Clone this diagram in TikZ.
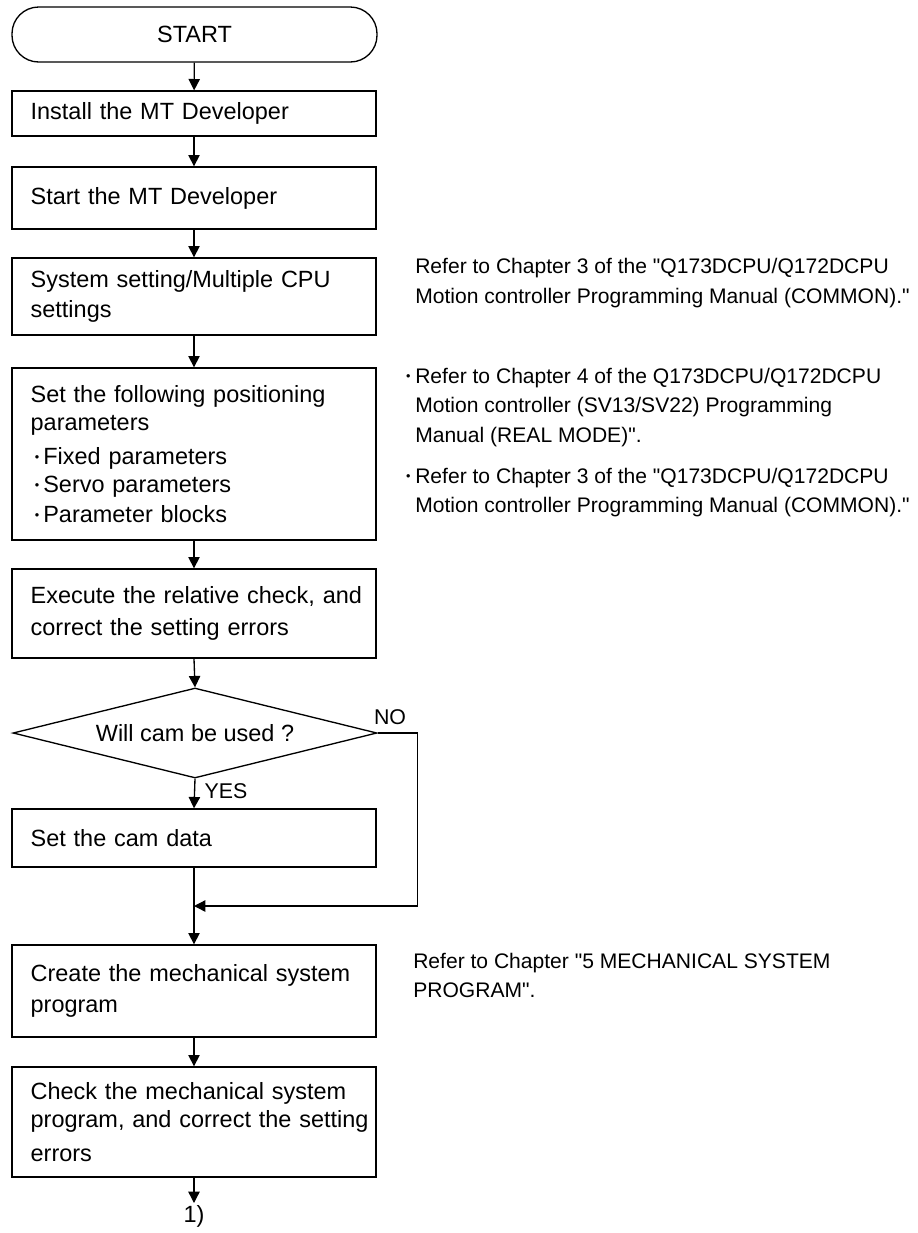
\documentclass[tikz,border=0pt]{standalone}
\usepackage{fontspec}
\setmainfont{Liberation Sans}[Ligatures=TeXOff]
\usetikzlibrary{arrows.meta,shapes.geometric}
% bullet dot for the lists
\newcommand{\dotmark}{\raisebox{2.2pt}{\fontsize{9.5}{9.5}\selectfont •}}
\newcommand{\bitem}{\makebox[9.5pt][c]{\dotmark}}
\begin{document}
\begin{tikzpicture}[x=0.75pt,y=-0.75pt,
  flow/.style={line width=1pt,-{Triangle[length=8.5pt,width=8.5pt]}},
  boxfont/.style={font=\fontsize{17.6}{22.5}\selectfont},
  notefont/.style={font=\fontsize{15.8}{22}\selectfont},
  proc/.style={draw,line width=1pt,rectangle,minimum width=273pt,
    text width=245pt,inner xsep=14pt,inner ysep=0pt,align=left,boxfont},
  term/.style={draw,line width=1pt,rectangle,rounded corners=20pt,
    minimum width=273.75pt,minimum height=41.25pt,boxfont},
  decide/.style={draw,line width=1pt,diamond,shape aspect=4,inner sep=0pt,
    minimum width=273pt,minimum height=67.5pt,boxfont},
  note/.style={anchor=base west,inner sep=0pt,notefont},
  tag/.style={inner sep=0pt,font=\fontsize{16}{18}\selectfont}
]
\useasboundingbox (0,0) rectangle (918,1233);

% flow chart steps
\node[term] (start) at (194.5,34.5) {START};
\node[proc,minimum height=33.75pt] (b1) at (194,113.5) {Install the MT Developer};
\node[proc,minimum height=46.5pt] (b2) at (194,198) {Start the MT Developer};
\node[proc,minimum height=57.75pt] (b3) at (194,296.5)
  {System setting/Multiple CPU\\settings};
\node[proc,minimum height=129pt] (b4) at (194,454)
  {\baselineskip=20.5pt Set the following positioning\\parameters\\[5.5pt]
   \bitem Fixed parameters\\\bitem Servo parameters\\\bitem Parameter blocks};
\node[proc,minimum height=66.75pt] (b5) at (194,613.5)
  {\mbox{Execute the relative check, and}\\[1.5pt]correct the setting errors};
\node[decide] (dia) at (195,733) {Will cam be used ?};
\node[proc,minimum height=43.5pt] (b6) at (194,838) {Set the cam data};
\coordinate (m) at (194,906);
\node[proc,minimum height=69pt] (b7) at (194,991)
  {Create the mechanical system\\[0.5pt]program};
\node[proc,minimum height=82.5pt] (b8) at (194,1122)
  {Check the mechanical system\\[-1.5pt]\mbox{program, and correct the setting}\\[3.5pt]errors};
\node[anchor=north,inner xsep=0pt,inner ysep=2pt,boxfont] (cont) at (194,1203) {1)};

% branch labels
\node[tag] (no) at (390,717) {NO};
\node[tag] (yes) at (226,791) {YES};

% connectors
\draw[flow] (start) -- (b1);
\draw[flow] (b1) -- (b2);
\draw[flow] (b2) -- (b3);
\draw[flow] (b3) -- (b4);
\draw[flow] (b4) -- (b5);
\draw[flow] (b5.south) -- (dia.north);
\draw[flow] (dia.south) -- (b6.north);
\draw[flow] (dia.east) -- ++(40,0) |- (m);
\draw[flow] (b6) -- (b7);
\draw[flow] (b7) -- (b8);
\draw[flow] (b8) -- (cont);

% reference notes
\node[note] (r1a) at (415,273) {Refer to Chapter 3 of the "Q173DCPU/Q172DCPU};
\node[note] (r1b) at (415,303) {Motion controller Programming Manual (COMMON)."};
\node[note] (r2a) at (401,383) {\makebox[10.5pt][c]{\dotmark}Refer to Chapter 4 of the Q173DCPU/Q172DCPU};
\node[note] (r2b) at (415,412) {Motion controller (SV13/SV22) Programming};
\node[note] (r2c) at (415,442) {Manual (REAL MODE)".};
\node[note] (r3a) at (401,483) {\makebox[10.5pt][c]{\dotmark}Refer to Chapter 3 of the "Q173DCPU/Q172DCPU};
\node[note] (r3b) at (415,512) {Motion controller Programming Manual (COMMON)."};
\node[note] (r4a) at (413,968) {Refer to Chapter "5 MECHANICAL SYSTEM};
\node[note] (r4b) at (413,997) {PROGRAM".};
\end{tikzpicture}
\end{document}
